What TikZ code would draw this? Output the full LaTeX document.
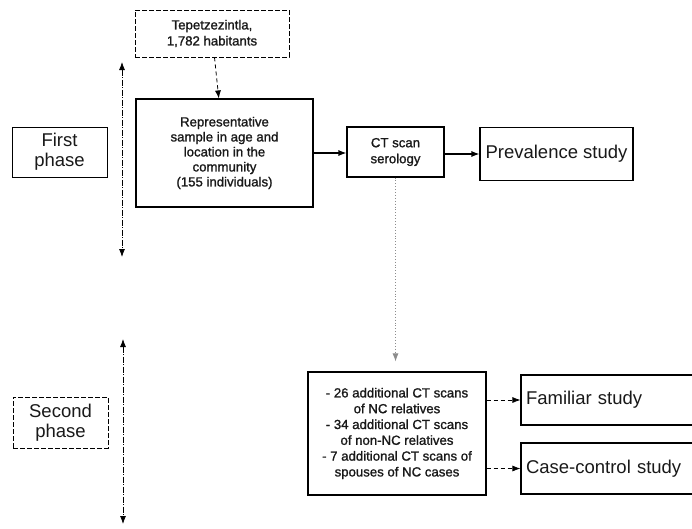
\documentclass[tikz,border=0pt]{standalone}
\usepackage{fontspec}
\setmainfont{Liberation Sans}
\newfontfamily\heavysans[FakeBold=1.2]{Liberation Sans}
\usetikzlibrary{arrows.meta}
\tikzset{
  box/.style={draw=black, line width=1.1pt, rectangle, align=center, inner sep=0pt, text=black!90},
  dbox/.style={box, dash pattern=on 5pt off 2pt, line width=0.8pt},
  smalltxt/.style={font=\heavysans\fontsize{13.2}{16}\selectfont},
  bigtxt/.style={font=\fontsize{18.5}{20}\selectfont},
  arr/.style={line width=1.1pt, -{Latex[length=8pt,width=6pt]}},
  darr/.style={arr, dash pattern=on 4pt off 3pt, line width=0.8pt},
  dotarr/.style={line width=0.9pt, black!45, dotted, -{Latex[length=8pt,width=6pt]}, shorten >=10pt},
  phasearr/.style={line width=0.8pt, dash pattern=on 6pt off 1.5pt on 1pt off 1.5pt, {Latex[length=8pt,width=6pt]}-{Latex[length=8pt,width=6pt]}}
}
\begin{document}
\begin{tikzpicture}[x=1pt,y=-1pt]
\useasboundingbox (0,0) rectangle (692,528);
\fill[white] (0,0) rectangle (692,528);
% nodes
\node[dbox, smalltxt, minimum width=154pt, minimum height=47pt] (tep) at (212,33.5) {Tepetzezintla,\\1,782 habitants};
\node[box, minimum width=177pt, minimum height=108pt, font=\heavysans\fontsize{13.2}{15}\selectfont] (rep) at (224.5,153) {Representative\\sample in age and\\location in the\\community\\(155 individuals)};
\node[box, smalltxt, minimum width=97pt, minimum height=50pt] (ct) at (395.5,152) {CT scan\\serology};
\node[box, bigtxt, minimum width=153pt, minimum height=53pt] (prev) at (556.5,154) {Prevalence study};
\node[box, bigtxt, minimum width=95pt, minimum height=50pt, line width=0.9pt] (first) at (59.5,152) {First\\phase};
\node[dbox, bigtxt, minimum width=95pt, minimum height=51pt] (second) at (60.5,422.5) {Second\\phase};
\node[box, minimum width=178pt, minimum height=123pt, font=\heavysans\fontsize{13.2}{15.8}\selectfont] (big) at (397,433.5) {- 26 additional CT scans\\of NC relatives\\- 34 additional CT scans\\of non-NC relatives\\- 7 additional CT scans of\\spouses of NC cases};
\node[box, bigtxt, minimum width=180pt, minimum height=50pt, text width=170pt, align=left] (fam) at (611,400) {Familiar study};
\node[box, bigtxt, minimum width=180pt, minimum height=51pt, text width=170pt, align=left] (cc) at (611,468.5) {Case-control study};
% phase arrows
\coordinate (p1top) at (122,62);
\coordinate (p1bot) at (122,257);
\coordinate (p2top) at (123,339);
\coordinate (p2bot) at (123,524);
\draw[phasearr] (p1top) -- (p1bot);
\draw[phasearr] (p2top) -- (p2bot);
% connectors
\draw[darr] (tep) -- (rep);
\draw[arr] (rep.east) -- (ct.west |- rep.east);
\draw[arr] (ct.east |- prev.west) -- (prev.west);
\draw[dotarr] (ct.south) -- (big.north -| ct.south);
\draw[darr] (big.east |- fam.west) -- (fam.west);
\draw[darr] (big.east |- cc.west) -- (cc.west);
\end{tikzpicture}
\end{document}
